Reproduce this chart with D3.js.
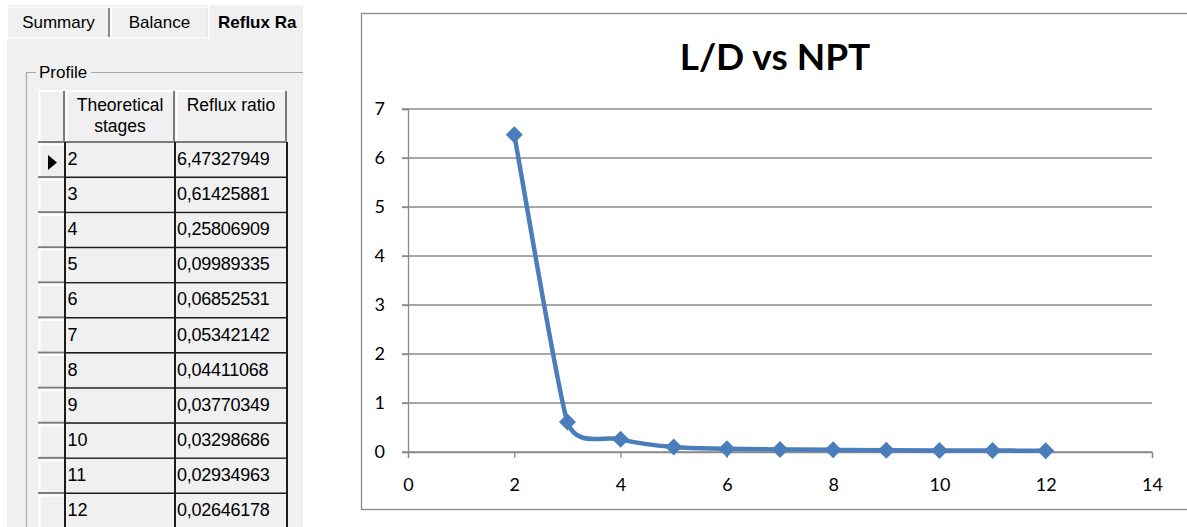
<!DOCTYPE html>
<html>
<head>
<meta charset="utf-8">
<script src="https://cdn.jsdelivr.net/npm/d3@7"></script>
<style>
  html, body { margin: 0; padding: 0; background: #ffffff; }
  svg { display: block; }
  .ui text { font-family: "Liberation Sans", Arial, sans-serif; fill: #000; }
  .chart text { font-family: Lato, "Open Sans", sans-serif; fill: #000; }
</style>
</head>
<body>
<div id="chart"></div>
<script>
const stages = [2, 3, 4, 5, 6, 7, 8, 9, 10, 11, 12];
const refluxRatio = [6.47327949, 0.61425881, 0.25806909, 0.09989335, 0.06852531, 0.05342142,
                     0.04411068, 0.03770349, 0.03298686, 0.02934963, 0.02646178];
const xTickValues = [0, 2, 4, 6, 8, 10, 12, 14];
const yTickValues = [0, 1, 2, 3, 4, 5, 6, 7];
const tabLabels = ['Summary', 'Balance', 'Reflux Ra'];
const columnHeaders = [['Theoretical', 'stages'], ['Reflux ratio']];
const groupLabel = 'Profile';
const chartTitle = 'L/D vs NPT';
const selectedRow = 0;

const width = 1187;
const height = 527;
const lineColor = '#4a7ebb';
const gridColor = '#8a8a8a';

// Excel-like smoothed line: bezier handles of 1/6 of the neighbour chord,
// clipped to half of the shorter adjacent segment
function curveExcel(context) {
  let pts = [];
  const dist = (a, b) => Math.hypot(b[0] - a[0], b[1] - a[1]);
  const handle = i => {
    const n = pts.length;
    const a = pts[Math.max(i - 1, 0)];
    const b = pts[Math.min(i + 1, n - 1)];
    let hx = (b[0] - a[0]) / 6;
    let hy = (b[1] - a[1]) / 6;
    const segs = [];
    if (i > 0) segs.push(dist(pts[i - 1], pts[i]));
    if (i < n - 1) segs.push(dist(pts[i], pts[i + 1]));
    const limit = d3.min(segs) / 2;
    const len = Math.hypot(hx, hy);
    if (len > limit && len > 0) {
      hx *= limit / len;
      hy *= limit / len;
    }
    return [hx, hy];
  };
  return {
    areaStart() {},
    areaEnd() {},
    lineStart() { pts = []; },
    point(x, y) { pts.push([+x, +y]); },
    lineEnd() {
      if (!pts.length) return;
      context.moveTo(pts[0][0], pts[0][1]);
      for (let i = 0; i < pts.length - 1; i++) {
        const h0 = handle(i);
        const h1 = handle(i + 1);
        context.bezierCurveTo(pts[i][0] + h0[0], pts[i][1] + h0[1],
                              pts[i + 1][0] - h1[0], pts[i + 1][1] - h1[1],
                              pts[i + 1][0], pts[i + 1][1]);
      }
    }
  };
}

const svg = d3.select('#chart')
              .append('svg')
              .attr('width', width)
              .attr('height', height);

svg.append('rect')
   .attr('width', width)
   .attr('height', height)
   .attr('fill', '#ffffff');

// ---------- left panel: tab page with the grid ----------
const ui = svg.append('g').attr('class', 'ui');

ui.append('rect')
  .attr('x', 7).attr('y', 5)
  .attr('width', 296).attr('height', height)
  .attr('fill', '#f0f0f0');

const tabs = [
  {x0: 7, x1: 110, top: 7, bottom: 37, bold: false},
  {x0: 111, x1: 208, top: 7, bottom: 37, bold: false},
  {x0: 208, x1: 303, top: 4, bottom: 40, bold: true}
];
// page line under the inactive tabs
ui.append('line')
  .attr('x1', 7).attr('x2', 208)
  .attr('y1', 37.5).attr('y2', 37.5)
  .attr('stroke', '#ffffff').attr('stroke-width', 1.5);

const tab = ui.selectAll('.tab')
              .data(tabLabels)
              .enter()
              .append('g')
              .attr('class', 'tab');
tab.append('rect')
   .attr('x', (d, i) => tabs[i].x0)
   .attr('y', (d, i) => tabs[i].top)
   .attr('width', (d, i) => tabs[i].x1 - tabs[i].x0)
   .attr('height', (d, i) => tabs[i].bottom - tabs[i].top)
   .attr('fill', '#f0f0f0');
tab.append('path')
   .attr('d', (d, i) => `M${tabs[i].x0 + 0.5},${tabs[i].bottom}V${tabs[i].top + 0.5}H${tabs[i].x1 - 1}`)
   .attr('fill', 'none')
   .attr('stroke', '#ffffff')
   .attr('stroke-width', 1.5);
tab.filter((d, i) => i < 2)
   .append('line')
   .attr('x1', (d, i) => tabs[i].x1 - 1)
   .attr('x2', (d, i) => tabs[i].x1 - 1)
   .attr('y1', (d, i) => tabs[i].top + 1)
   .attr('y2', (d, i) => tabs[i].bottom)
   .attr('stroke', (d, i) => i === 0 ? '#8c8c8c' : '#dadada')
   .attr('stroke-width', (d, i) => i === 0 ? 2 : 1);
tab.append('text')
   .attr('x', (d, i) => i === 2 ? tabs[i].x0 + 10 : (tabs[i].x0 + tabs[i].x1) / 2)
   .attr('y', 27.5)
   .attr('text-anchor', (d, i) => i === 2 ? 'start' : 'middle')
   .attr('font-size', 17)
   .attr('font-weight', (d, i) => tabs[i].bold ? 'bold' : 'normal')
   .text(d => d);
// the screenshot is cut at the panel edge
ui.append('rect')
  .attr('x', 303).attr('y', 0)
  .attr('width', 40).attr('height', height)
  .attr('fill', '#ffffff');

// group box
ui.append('path')
  .attr('d', 'M36,72.5H26.5V527M91,72.5H303')
  .attr('fill', 'none')
  .attr('stroke', '#a8a8a8')
  .attr('stroke-width', 1.2);
ui.append('text')
  .attr('x', 39).attr('y', 78)
  .attr('font-size', 17)
  .text(groupLabel);

// grid geometry
const colEdges = [38, 65, 175, 287];
const headerTop = 90;
const headerBottom = 143;
const rowY = d3.scaleLinear()
               .domain([0, 1])
               .range([headerBottom, headerBottom + 35.1]);

const grid = ui.append('g').attr('class', 'grid');

// header cells
const headerCells = [{x0: colEdges[0], x1: colEdges[1], lines: []}]
  .concat(columnHeaders.map((lines, i) => ({x0: colEdges[i + 1], x1: colEdges[i + 2], lines})));
const hc = grid.selectAll('.hcell')
               .data(headerCells)
               .enter()
               .append('g')
               .attr('class', 'hcell');
hc.append('rect')
  .attr('x', d => d.x0).attr('y', headerTop)
  .attr('width', d => d.x1 - d.x0).attr('height', headerBottom - headerTop)
  .attr('fill', '#f0f0f0');
hc.append('path')
  .attr('d', d => `M${d.x0 + 1.5},${headerBottom - 1}V${headerTop + 1}H${d.x1 - 1}`)
  .attr('fill', 'none').attr('stroke', '#ffffff').attr('stroke-width', 2);
hc.append('path')
  .attr('d', d => `M${d.x1 - 1},${headerTop + 1}V${headerBottom - 1}H${d.x0}`)
  .attr('fill', 'none').attr('stroke', '#7a7a7a').attr('stroke-width', 2);
hc.selectAll('text')
  .data(d => d.lines.map(t => ({t, cx: (d.x0 + d.x1) / 2})))
  .enter()
  .append('text')
  .attr('x', d => d.cx)
  .attr('y', (d, i) => 111 + i * 21)
  .attr('text-anchor', 'middle')
  .attr('font-size', 17.5)
  .text(d => d.t);

// data rows
const rows = grid.selectAll('.row')
                 .data(stages.map((s, i) => ({stage: s, value: refluxRatio[i], i})))
                 .enter()
                 .append('g')
                 .attr('class', 'row')
                 .attr('transform', d => `translate(0, ${rowY(d.i)})`);
const rh = rowY(1) - rowY(0);

rows.append('rect')
    .attr('x', colEdges[0]).attr('y', 0)
    .attr('width', colEdges[3] - colEdges[0]).attr('height', rh)
    .attr('fill', '#f0f0f0');
// row header 3d look
rows.append('path')
    .attr('d', `M${colEdges[0] + 1.5},${rh - 2}V1.5H${colEdges[1] - 1}`)
    .attr('fill', 'none').attr('stroke', '#ffffff').attr('stroke-width', 2);
rows.append('line')
    .attr('x1', colEdges[0]).attr('x2', colEdges[1])
    .attr('y1', rh - 1).attr('y2', rh - 1)
    .attr('stroke', '#7a7a7a').attr('stroke-width', 2);
// data cell borders
rows.append('line')
    .attr('x1', colEdges[1]).attr('x2', colEdges[3] + 1)
    .attr('y1', rh - 0.5).attr('y2', rh - 0.5)
    .attr('stroke', '#1c1c1c').attr('stroke-width', 2);
rows.selectAll('.vline')
    .data(colEdges.slice(1))
    .enter()
    .append('line')
    .attr('class', 'vline')
    .attr('x1', d => d).attr('x2', d => d)
    .attr('y1', -1).attr('y2', rh)
    .attr('stroke', '#1c1c1c').attr('stroke-width', 2);
rows.append('text')
    .attr('x', colEdges[1] + 2.5).attr('y', 22)
    .attr('font-size', 18)
    .text(d => d.stage);
rows.append('text')
    .attr('x', colEdges[2] + 2).attr('y', 22)
    .attr('font-size', 18)
    .attr('letter-spacing', -0.25)
    .text(d => d.value.toFixed(8).replace('.', ','));
rows.filter(d => d.i === selectedRow)
    .append('path')
    .attr('d', 'M48,12L48,27L57,19.5Z')
    .attr('fill', '#000');

// ---------- right: Excel-style chart ----------
const chart = svg.append('g').attr('class', 'chart');

chart.append('rect')
     .attr('x', 361.5).attr('y', 13.5)
     .attr('width', 900).attr('height', 496)
     .attr('fill', '#ffffff')
     .attr('stroke', '#8c8c8c')
     .attr('stroke-width', 1.3);

const xScale = d3.scaleLinear().domain([0, 14]).range([408, 1152]);
const yScale = d3.scaleLinear().domain([0, 7]).range([452, 109]);

chart.append('text')
     .attr('x', 775).attr('y', 70)
     .attr('text-anchor', 'middle')
     .attr('font-size', 37)
     .attr('font-weight', 'bold')
     .text(chartTitle);

chart.append('g')
     .attr('class', 'gridlines')
     .selectAll('line')
     .data(yTickValues)
     .enter()
     .append('line')
     .attr('x1', xScale(0) - 6).attr('x2', xScale(14))
     .attr('y1', d => yScale(d)).attr('y2', d => yScale(d))
     .attr('stroke', gridColor).attr('stroke-width', 1.3);

const yAxis = chart.append('g')
                   .attr('class', 'axis axis-y')
                   .attr('transform', `translate(${xScale(0)}, 0)`)
                   .call(d3.axisLeft(yScale)
                           .tickValues(yTickValues)
                           .tickFormat(d3.format('d'))
                           .tickSize(6)
                           .tickPadding(17));
const xAxis = chart.append('g')
                   .attr('class', 'axis axis-x')
                   .attr('transform', `translate(0, ${yScale(0)})`)
                   .call(d3.axisBottom(xScale)
                           .tickValues(xTickValues)
                           .tickFormat(d3.format('d'))
                           .tickSize(6)
                           .tickPadding(20));
chart.selectAll('.axis path, .axis line')
     .attr('stroke', gridColor)
     .attr('stroke-width', 1.3);
chart.selectAll('.axis text')
     .attr('font-family', 'Lato, "Open Sans", sans-serif')
     .attr('font-size', 18)
     .attr('fill', '#000');

const points = stages.map((s, i) => ({x: s, y: refluxRatio[i]}));
const line = d3.line()
               .x(d => xScale(d.x))
               .y(d => yScale(d.y))
               .curve(curveExcel);

chart.append('path')
     .datum(points)
     .attr('d', line)
     .attr('fill', 'none')
     .attr('stroke', lineColor)
     .attr('stroke-width', 4.5)
     .attr('stroke-linejoin', 'round');

chart.selectAll('.marker')
     .data(points)
     .enter()
     .append('path')
     .attr('class', 'marker')
     .attr('d', 'M0,-8.5L8.5,0L0,8.5L-8.5,0Z')
     .attr('transform', d => `translate(${xScale(d.x)}, ${yScale(d.y)})`)
     .attr('fill', lineColor);
</script>
</body>
</html>
